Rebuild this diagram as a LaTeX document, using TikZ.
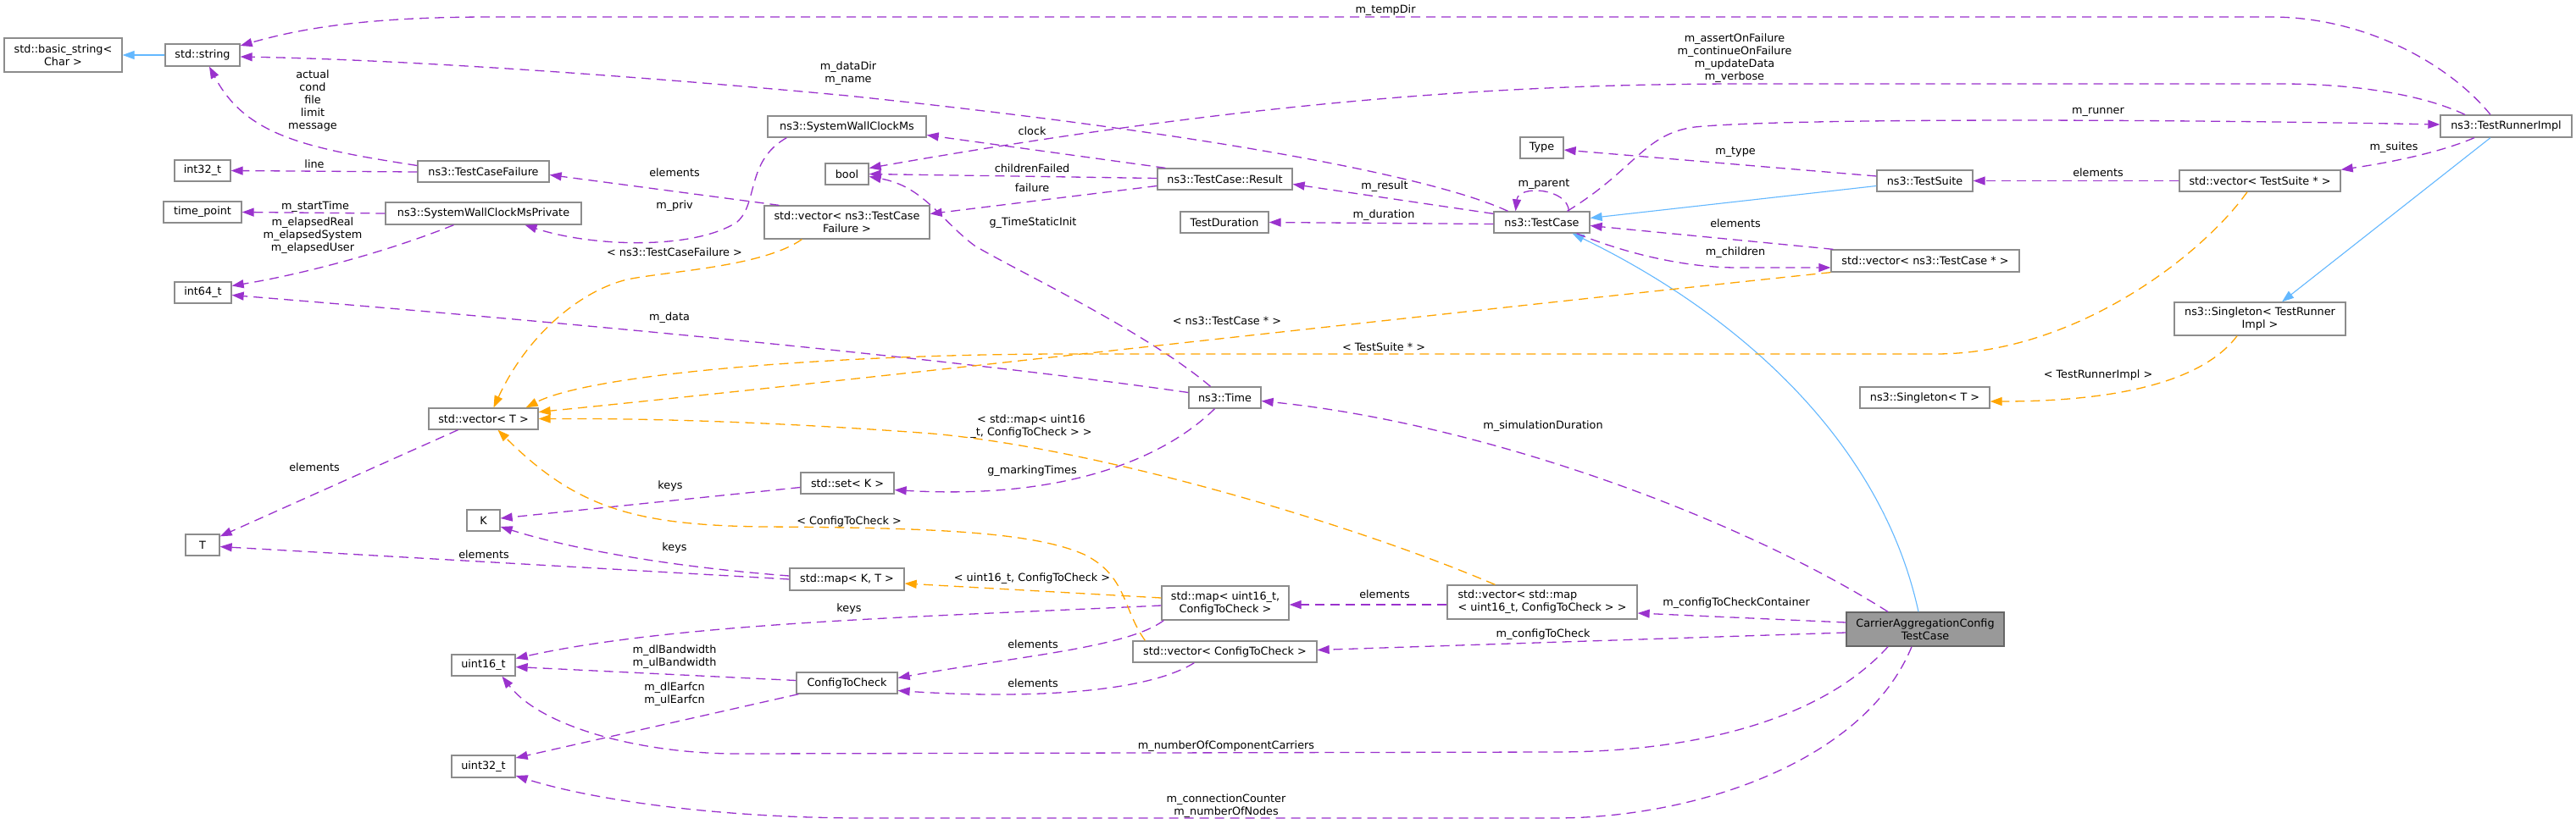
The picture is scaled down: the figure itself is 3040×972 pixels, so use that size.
\documentclass[tikz,border=0pt]{standalone}
\usepackage{fontspec}
\setmainfont{DejaVu Sans}
\usetikzlibrary{arrows.meta,calc}
\definecolor{edgepurple}{HTML}{9A32CD}
\definecolor{edgeorange}{HTML}{FFA500}
\definecolor{edgeblue}{HTML}{63B8FF}
\definecolor{boxborder}{HTML}{8C8C8C}
\definecolor{rootfill}{HTML}{999999}
\definecolor{rootborder}{HTML}{666666}
\begin{document}
\begin{tikzpicture}[x=1pt,y=-1pt,
  every node/.style={font=\fontsize{12.8}{15}\selectfont},
  cls/.style={draw=boxborder, line width=1.3pt, fill=white, inner sep=0pt, align=center},
  root/.style={cls, fill=rootfill, draw=rootborder},
  lbl/.style={inner sep=0pt, align=center},
  use/.style={draw=edgepurple, line width=1.3pt, dash pattern=on 11pt off 7pt, -{Triangle[length=14pt,width=10pt]}},
  tmpl/.style={draw=edgeorange, line width=1.3pt, dash pattern=on 11pt off 7pt, -{Triangle[length=14pt,width=10pt]}},
  inh/.style={draw=edgeblue, line width=1.1pt, -{Triangle[length=14pt,width=10pt]}}
]
\fill[white] (0,0) rectangle (3040,972);
\useasboundingbox (0,0) rectangle (3040,972);

% ---------- nodes ----------
\node[cls, minimum width=139pt, minimum height=40pt] (bs) at (74.5,65) {std::basic\_string<\\Char >};
\node[cls, minimum width=88pt, minimum height=26pt] (str) at (239,65) {std::string};
\node[cls, minimum width=66pt, minimum height=25pt] (i32) at (239,201.5) {int32\_t};
\node[cls, minimum width=92pt, minimum height=25pt] (tp) at (239,250.5) {time\_point};
\node[cls, minimum width=67pt, minimum height=25pt] (i64) at (239.5,345.5) {int64\_t};
\node[cls, minimum width=40pt, minimum height=25pt] (T) at (239,643.5) {T};
\node[cls, minimum width=155pt, minimum height=25pt] (tcf) at (570.5,202.5) {ns3::TestCaseFailure};
\node[cls, minimum width=231pt, minimum height=26pt] (swp) at (570.5,252) {ns3::SystemWallClockMsPrivate};
\node[cls, minimum width=129pt, minimum height=25pt] (vT) at (570.5,494.5) {std::vector< T >};
\node[cls, minimum width=39pt, minimum height=25pt] (K) at (570.5,614.5) {K};
\node[cls, minimum width=75pt, minimum height=25pt] (u16) at (570.5,785.5) {uint16\_t};
\node[cls, minimum width=75pt, minimum height=26pt] (u32) at (570.5,905) {uint32\_t};
\node[cls, minimum width=187pt, minimum height=25pt] (swc) at (999.5,149.5) {ns3::SystemWallClockMs};
\node[cls, minimum width=51pt, minimum height=25pt] (bool) at (999.5,205.5) {bool};
\node[cls, minimum width=195pt, minimum height=39pt] (vtcf) at (999.5,262.5) {std::vector< ns3::TestCase\\Failure >};
\node[cls, minimum width=110pt, minimum height=25pt] (setK) at (1000,570.5) {std::set< K >};
\node[cls, minimum width=135pt, minimum height=26pt] (mapKT) at (999.5,684) {std::map< K, T >};
\node[cls, minimum width=119pt, minimum height=25pt] (ctc) at (999.5,806.5) {ConfigToCheck};
\node[cls, minimum width=159pt, minimum height=25pt] (res) at (1445.5,211.5) {ns3::TestCase::Result};
\node[cls, minimum width=104pt, minimum height=25pt] (td) at (1445,262.5) {TestDuration};
\node[cls, minimum width=85pt, minimum height=25pt] (time) at (1445.5,469.5) {ns3::Time};
\node[cls, minimum width=150pt, minimum height=40pt] (mapu) at (1446,712) {std::map< uint16\_t,\\ConfigToCheck >};
\node[cls, minimum width=217pt, minimum height=25pt] (vctc) at (1445.5,769.5) {std::vector< ConfigToCheck >};
\node[cls, minimum width=51pt, minimum height=25pt] (type) at (1819.5,174.5) {Type};
\node[cls, minimum width=113pt, minimum height=25pt] (tc) at (1819.5,262.5) {ns3::TestCase};
\node[cls, align=left, minimum width=224pt, minimum height=40pt] (vmap) at (1820,711) {std::vector< std::map\\< uint16\_t, ConfigToCheck > >};
\node[cls, minimum width=113pt, minimum height=25pt] (ts) at (2271.5,213.5) {ns3::TestSuite};
\node[cls, minimum width=222pt, minimum height=26pt] (vtc) at (2272,308) {std::vector< ns3::TestCase * >};
\node[cls, minimum width=153pt, minimum height=25pt] (sgT) at (2271.5,469.5) {ns3::Singleton< T >};
\node[root, minimum width=186pt, minimum height=40pt] (ca) at (2272,743) {CarrierAggregationConfig\\TestCase};
\node[cls, minimum width=190pt, minimum height=25pt] (vts) at (2667,213.5) {std::vector< TestSuite * >};
\node[cls, minimum width=202pt, minimum height=39pt] (sgR) at (2667,376.5) {ns3::Singleton< TestRunner\\Impl >};
\node[cls, minimum width=155pt, minimum height=26pt] (tri) at (2957.5,149) {ns3::TestRunnerImpl};

% ---------- inheritance ----------
\draw[inh] (str.west) -- (bs.east);
\draw[inh] ($(ts.west)+(0,6)$) -- ($(tc.east)+(0,-5)$);
\draw[inh] ($(ca.north)+(-8,0)$) .. controls (2220,520) and (2050,370) .. ($(tc.south)+(36,0)$);
\draw[inh] ($(tri.south)+(-18.5,0)$) -- ($(sgR.north)+(26,0)$);

% ---------- usage ----------
\draw[use] ($(tri.north)+(-18.5,0)$) .. controls (2890,75) and (2790,20) .. (2680,20) -- (580,20) .. controls (440,20) and (360,32) .. ($(str.east)+(0,-11)$);
\draw[use] ($(tc.north)+(-40,0)$) .. controls (1700,212) and (1450,160) .. (1000,113) .. controls (700,85) and (450,70) .. ($(str.east)+(0,2)$);
\draw[use] ($(tri.north)+(-48.5,0)$) .. controls (2860,112) and (2780,99) .. (2692,99) -- (2060,99) .. controls (1800,99) and (1500,115) .. ($(bool.east)+(0,-7)$);
\draw[use] ($(res.west)+(0,-1)$) -- (bool.east);
\draw[use] ($(time.north)+(-17,0)$) .. controls (1350,390) and (1200,320) .. (1150,290) .. controls (1110,260) and (1090,220) .. ($(bool.east)+(0,3)$);
\draw[use] ($(res.north west)+(10,0)$) -- ($(swc.east)+(0,10)$);
\draw[use] ($(res.west)+(0,8)$) -- ($(vtcf.east)+(0,-10)$);
\draw[use] ($(vtcf.north west)+(18,0)$) -- ($(tcf.east)+(0,4)$);
\draw[use] ($(swc.south west)+(23,0)$) .. controls (880,190) and (895,240) .. (870,262) .. controls (820,295) and (700,292) .. ($(swp.south)+(49,0)$);
\draw[use] (swp.west) -- (tp.east);
\draw[use] ($(swp.south)+(-35,0)$) .. controls (450,300) and (350,325) .. ($(i64.east)+(0,-8)$);
\draw[use] ($(tcf.west)+(0,-7)$) .. controls (360,175) and (290,160) .. ($(str.south)+(8,0)$);
\draw[use] ($(tcf.west)+(0,0.5)$) -- (i32.east);
\draw[use] ($(time.west)+(0,-6)$) .. controls (1100,420) and (600,375) .. ($(i64.east)+(0,3)$);
\draw[use] ($(vT.south)+(-30,0)$) -- ($(T.north east)+(0,3)$);
\draw[use] ($(setK.west)+(0,5)$) -- ($(K.east)+(0,-2.5)$);
\draw[use] ($(mapKT.west)+(0,-4)$) .. controls (800,670) and (680,650) .. ($(K.east)+(0,7.5)$);
\draw[use] (mapKT.west) -- ($(T.east)+(0,2)$);
\draw[use] ($(time.south)+(-12,0)$) .. controls (1370,545) and (1250,590) .. ($(setK.east)+(0,8)$);
\draw[use] ($(mapu.west)+(0,3)$) .. controls (1100,728) and (800,735) .. ($(u16.east)+(0,-8)$);
\draw[use] ($(ctc.west)+(0,-3)$) -- ($(u16.east)+(0,2)$);
\draw[use] ($(ctc.south west)+(3,0)$) -- ($(u32.east)+(0,-10)$);
\draw[use] ($(mapu.south west)+(3,0)$) .. controls (1330,765) and (1200,775) .. ($(ctc.east)+(0,-6)$);
\draw[use] ($(vctc.south west)+(73,0)$) .. controls (1350,820) and (1200,825) .. ($(ctc.east)+(0,9)$);
\draw[use] ($(vmap.west)+(0,3)$) -- ($(mapu.east)+(0,2)$);
\draw[use] ($(ca.west)+(0,-8)$) -- ($(vmap.east)+(0,13)$);
\draw[use] ($(ca.west)+(0,4)$) -- ($(vctc.east)+(0,-2)$);
\draw[use] ($(ca.south)+(-44,0)$) .. controls (2150,850) and (2000,888) .. (1835,888) -- (870,890) .. controls (760,890) and (640,860) .. ($(u16.south)+(22,0)$);
\draw[use] ($(ca.south)+(-16,0)$) .. controls (2200,900) and (2000,966) .. (1835,966) -- (1020,966) .. controls (850,966) and (700,945) .. ($(u32.east)+(0,11)$);
\draw[use] ($(ca.north)+(-44,0)$) .. controls (2050,610) and (1750,500) .. ($(time.east)+(0,4)$);
\draw[use] ($(tc.north west)+(0,3)$) -- ($(res.east)+(0,6)$);
\draw[use] ($(tc.west)+(0,2)$) -- (td.east);
\draw[use] ($(tc.north)+(32,0)$) .. controls (1850,222) and (1792,218) .. ($(tc.north)+(-31,0)$);
\draw[use] ($(ts.west)+(0,-5.5)$) -- ($(type.east)+(0,2.5)$);
\draw[use] ($(tc.north)+(30,0)$) .. controls (1930,200) and (1940,158) .. (2000,150) .. controls (2100,140) and (2500,140) .. ($(tri.west)+(0,-2)$);
\draw[use] ($(tri.south)+(-37.5,0)$) .. controls (2880,180) and (2820,192) .. (vts.north east);
\draw[use] (vts.west) -- (ts.east);
\draw[use] ($(vtc.north west)+(3,0)$) -- ($(tc.east)+(0,4)$);
\draw[use] ($(tc.south east)+(-16,0)$) .. controls (1920,300) and (1990,316) .. (2050,316) -- ($(vtc.west)+(0,8)$);

% ---------- template instances ----------
\draw[tmpl] ($(vtcf.south west)+(45,0)$) .. controls (900,315) and (790,320) .. (740,330) .. controls (680,345) and (620,400) .. ($(vT.north)+(12,0)$);
\draw[tmpl] (vtc.south west) .. controls (1700,370) and (1000,450) .. ($(vT.east)+(0,-8)$);
\draw[tmpl] ($(vts.south)+(-15,0)$) .. controls (2600,300) and (2450,418) .. (2284,418) -- (1259,418) .. controls (1000,418) and (700,440) .. ($(vT.north east)+(-15,0)$);
\draw[tmpl] ($(vmap.north west)+(57,0)$) .. controls (1600,620) and (1300,530) .. (1100,512) .. controls (900,497) and (750,494) .. (vT.east);
\draw[tmpl] ($(vctc.north west)+(15,0)$) .. controls (1325,720) and (1330,680) .. (1280,655) .. controls (1220,628) and (1100,623) .. (900,622) .. controls (750,620) and (680,600) .. ($(vT.south)+(17,0)$);
\draw[tmpl] ($(mapu.west)+(0,-6)$) -- ($(mapKT.east)+(0,5)$);
\draw[tmpl] ($(sgR.south)+(-27,0)$) .. controls (2600,450) and (2500,474) .. ($(sgT.east)+(0,4.5)$);

% ---------- labels ----------
\node[lbl] (l1) at (1635,12) {m\_tempDir};
\node[lbl] (l2) at (1001,86.5) {m\_dataDir\\m\_name};
\node[lbl] (l3) at (2047,68.5) {m\_assertOnFailure\\m\_continueOnFailure\\m\_updateData\\m\_verbose};
\node[lbl] (l4) at (1218,199) {childrenFailed};
\node[lbl] (l5) at (1219,263) {g\_TimeStaticInit};
\node[lbl] (l6) at (1218,155) {clock};
\node[lbl] (l7) at (1218,222) {failure};
\node[lbl] (l8) at (796,204) {elements};
\node[lbl] (l9) at (796,243) {m\_priv};
\node[lbl] (l10) at (372,244) {m\_startTime};
\node[lbl] (l11) at (369,278.5) {m\_elapsedReal\\m\_elapsedSystem\\m\_elapsedUser};
\node[lbl] (l12) at (369,119) {actual\\cond\\file\\limit\\message};
\node[lbl] (l13) at (371,194) {line};
\node[lbl] (l14) at (790,375) {m\_data};
\node[lbl] (l15) at (371,552) {elements};
\node[lbl] (l16) at (791,574) {keys};
\node[lbl] (l17) at (796,647) {keys};
\node[lbl] (l18) at (571,655) {elements};
\node[lbl] (l19) at (1218,556) {g\_markingTimes};
\node[lbl] (l20) at (1002,719) {keys};
\node[lbl] (l21) at (796,775.5) {m\_dlBandwidth\\m\_ulBandwidth};
\node[lbl] (l22) at (796,819.5) {m\_dlEarfcn\\m\_ulEarfcn};
\node[lbl] (l23) at (1219,761) {elements};
\node[lbl] (l24) at (1219,807) {elements};
\node[lbl] (l25) at (1634,702) {elements};
\node[lbl] (l26) at (2049,712) {m\_configToCheckContainer};
\node[lbl] (l27) at (1821,749) {m\_configToCheck};
\node[lbl] (l28) at (1447,881) {m\_numberOfComponentCarriers};
\node[lbl] (l29) at (1447,951.5) {m\_connectionCounter\\m\_numberOfNodes};
\node[lbl] (l30) at (1821,503) {m\_simulationDuration};
\node[lbl] (l31) at (1634,220) {m\_result};
\node[lbl] (l32) at (1633,254) {m\_duration};
\node[lbl] (l33) at (1822,218) {m\_parent};
\node[lbl] (l34) at (2048,180) {m\_type};
\node[lbl] (l35) at (2476,132) {m\_runner};
\node[lbl] (l36) at (2825,174) {m\_suites};
\node[lbl] (l37) at (2476,204) {elements};
\node[lbl] (l38) at (2048,264) {elements};
\node[lbl] (l39) at (2048,298) {m\_children};
\node[lbl] (l44) at (796,298) {< ns3::TestCaseFailure >};
\node[lbl] (l45) at (1448,379) {< ns3::TestCase * >};
\node[lbl] (l46) at (1633,410) {< TestSuite * >};
\node[lbl] (l47) at (1217,503.5) {< std::map< uint16\\\_t, ConfigToCheck > >};
\node[lbl] (l48) at (1002,616) {< ConfigToCheck >};
\node[lbl] (l49) at (1218,683) {< uint16\_t, ConfigToCheck >};
\node[lbl] (l50) at (2476,443) {< TestRunnerImpl >};
\end{tikzpicture}
\end{document}
